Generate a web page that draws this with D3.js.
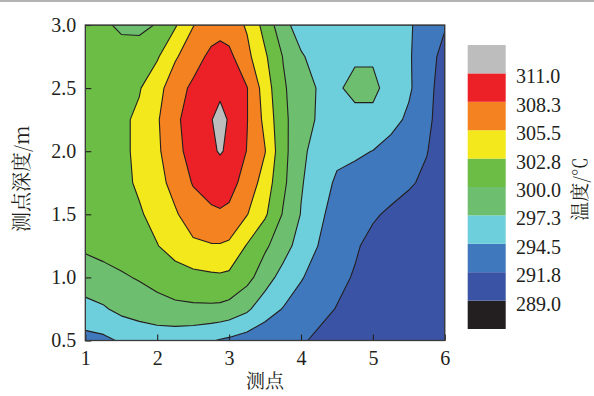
<!DOCTYPE html>
<html>
<head>
<meta charset="utf-8">
<script src="https://cdn.jsdelivr.net/npm/d3@7"></script>
<style>
  body { margin: 0; background: #fff; }
  text { font-family: "Liberation Serif", "Times New Roman", serif; fill: #231f20; }
  .cjk { font-family: "Noto Serif CJK SC", "Noto Sans CJK SC", serif; }
</style>
</head>
<body>
<div id="chart"></div>
<script>
// measuring points (x) and depths (y) of the temperature grid
var xPoints = [1, 1.25, 1.5, 1.75, 2, 2.25, 2.5, 2.75, 2.875, 3, 3.25, 3.5, 3.75, 4, 4.25, 4.5, 4.75, 5, 5.25, 5.5, 5.75, 6];
var depths = [3.0, 2.75, 2.5, 2.25, 2.0, 1.75, 1.5, 1.25, 1.0, 0.75, 0.5];

// temperatures (K), one row per depth
var temps = [
  [300.8, 300.3, 299.7, 299.6, 300.1, 302.5, 305.4, 306.8, 307.2, 306.9, 305.2, 301.8, 298.2, 296.0, 296.2, 296.0, 296.0, 295.9, 295.6, 294.8, 293.4, 292.0],
  [301.3, 301.0, 300.7, 300.8, 302.5, 305.2, 307.0, 309.0, 309.4, 309.0, 306.2, 303.2, 299.9, 297.6, 296.2, 296.4, 297.0, 297.0, 296.0, 294.8, 292.8, 291.0],
  [301.4, 301.8, 302.2, 302.6, 304.6, 307.0, 308.9, 310.2, 310.5, 310.1, 308.4, 304.2, 300.4, 298.3, 297.1, 297.0, 297.9, 297.9, 296.3, 294.9, 292.6, 290.6],
  [301.4, 301.9, 302.3, 303.3, 305.2, 307.8, 309.5, 310.9, 311.7, 310.8, 308.4, 304.8, 300.7, 298.3, 297.0, 296.8, 296.6, 296.6, 295.4, 294.0, 292.4, 290.4],
  [301.3, 301.8, 302.3, 303.3, 305.0, 307.5, 309.3, 310.6, 311.2, 310.6, 308.2, 305.6, 300.8, 298.0, 296.0, 295.3, 294.9, 294.45, 293.5, 292.8, 291.9, 290.3],
  [301.2, 301.6, 302.1, 303.2, 304.6, 306.4, 308.5, 309.4, 309.6, 309.3, 307.2, 304.3, 300.6, 297.5, 296.0, 294.0, 293.6, 293.3, 292.8, 292.1, 291.3, 290.5],
  [301.0, 301.4, 301.9, 302.5, 303.7, 305.2, 306.9, 307.8, 308.0, 307.7, 305.6, 303.2, 299.8, 297.2, 295.0, 293.5, 292.8, 292.1, 291.4, 290.8, 290.4, 290.0],
  [300.4, 300.8, 301.2, 301.7, 302.7, 304.0, 305.0, 305.3, 305.3, 305.0, 302.6, 300.4, 298.6, 296.0, 294.4, 293.0, 292.1, 291.1, 290.7, 290.4, 290.1, 289.8],
  [298.8, 299.2, 299.7, 300.2, 300.8, 301.5, 302.0, 302.3, 302.4, 302.2, 300.8, 298.6, 296.2, 294.7, 293.4, 292.4, 291.6, 290.9, 290.5, 290.2, 289.9, 289.6],
  [296.4, 297.0, 298.0, 298.6, 299.1, 299.4, 299.5, 299.5, 299.4, 299.1, 297.8, 295.6, 294.4, 293.3, 292.5, 291.7, 291.0, 290.6, 290.3, 290.0, 289.7, 289.4],
  [293.6, 293.9, 294.8, 295.3, 295.6, 295.6, 295.3, 294.7, 294.3, 294.0, 293.3, 292.9, 292.5, 292.1, 291.3, 290.6, 290.2, 289.9, 289.7, 289.5, 289.3, 289.1]
];

var levels = [289.0, 291.8, 294.5, 297.3, 300.0, 302.8, 305.5, 308.3, 311.0];
var bandColors = ['#231f20', '#3a53a4', '#3f78bc', '#6dcedc', '#6dbf6f', '#6bbd45', '#f3e81b', '#f58220', '#ec2027', '#bdbdbd'];
var xTicks = [1, 2, 3, 4, 5, 6];
var yTicks = [0.5, 1.0, 1.5, 2.0, 2.5, 3.0];

var width = 594;
var height = 396;
var plot = {left: 85.3, right: 444.8, top: 25, bottom: 340.5};

var svg = d3.select('#chart').append('svg')
  .attr('width', width)
  .attr('height', height);

// thin gray page rule at the top
svg.append('line')
  .attr('x1', 0).attr('x2', width)
  .attr('y1', 1).attr('y2', 1)
  .attr('stroke', '#9a9a9a')
  .attr('stroke-width', 1.5);

/// Scales
var x = d3.scaleLinear().domain([1, 6]).range([plot.left, plot.right]);
var y = d3.scaleLinear().domain([0.5, 3]).range([plot.bottom, plot.top]);

// grid index -> data value (grid columns are not evenly spaced)
var ix = d3.scaleLinear().domain(d3.range(xPoints.length)).range(xPoints).clamp(true);
var iy = d3.scaleLinear().domain(d3.range(depths.length)).range(depths).clamp(true);

var n = xPoints.length, m = depths.length;
var values = [];
temps.forEach(function(row) { row.forEach(function(v) { values.push(v); }); });

var contours = d3.contours()
  .size([n, m])
  .thresholds(levels)(values);

var proj = d3.geoTransform({
  point: function(px, py) {
    this.stream.point(x(ix(px - 0.5)), y(iy(py - 0.5)));
  }
});
var path = d3.geoPath(proj);

svg.append('clipPath').attr('id', 'clip')
  .append('rect')
  .attr('x', plot.left).attr('y', plot.top)
  .attr('width', plot.right - plot.left)
  .attr('height', plot.bottom - plot.top);

var field = svg.append('g').attr('clip-path', 'url(#clip)');

field.append('rect')
  .attr('x', plot.left).attr('y', plot.top)
  .attr('width', plot.right - plot.left)
  .attr('height', plot.bottom - plot.top)
  .attr('fill', bandColors[0]);

field.selectAll('path.band')
  .data(contours)
  .enter().append('path')
  .attr('class', 'band')
  .attr('d', path)
  .attr('fill', function(d, i) { return bandColors[i + 1]; })
  .attr('stroke', '#231f20')
  .attr('stroke-width', 1.1)
  .attr('stroke-linejoin', 'round');

/// Axes
var xAxis = svg.append('g')
  .attr('transform', 'translate(0,' + plot.bottom + ')')
  .call(d3.axisBottom(x).tickValues(xTicks).tickFormat(d3.format('d')).tickSizeInner(-6).tickSizeOuter(0).tickPadding(10));

var yAxis = svg.append('g')
  .attr('transform', 'translate(' + plot.left + ',0)')
  .call(d3.axisLeft(y).tickValues(yTicks).tickFormat(d3.format('.1f')).tickSizeInner(-6).tickSizeOuter(0).tickPadding(9));

[xAxis, yAxis].forEach(function(a) {
  a.select('.domain').remove();
  a.selectAll('.tick line').attr('stroke', '#231f20').attr('stroke-width', 1.1);
  a.selectAll('.tick text')
    .attr('font-size', 20)
    .attr('font-family', '"Liberation Serif", serif')
    .attr('fill', '#231f20');
});

svg.append('rect')
  .attr('x', plot.left).attr('y', plot.top)
  .attr('width', plot.right - plot.left)
  .attr('height', plot.bottom - plot.top)
  .attr('fill', 'none')
  .attr('stroke', '#3a3a3a')
  .attr('stroke-width', 1.3);

// axis titles
svg.append('text')
  .attr('class', 'cjk')
  .attr('x', (plot.left + plot.right) / 2)
  .attr('y', 388)
  .attr('text-anchor', 'middle')
  .attr('font-size', 19)
  .text('测点');

svg.append('text')
  .attr('class', 'cjk')
  .attr('transform', 'translate(29,' + ((plot.top + plot.bottom) / 2 - 4) + ') rotate(-90)')
  .attr('text-anchor', 'middle')
  .attr('font-size', 20)
  .text('测点深度/m');

/// Colour bar
var bar = d3.scaleLinear().domain([0, bandColors.length]).range([329, 45]);
var legend = svg.append('g');

legend.selectAll('rect')
  .data(bandColors)
  .enter().append('rect')
  .attr('x', 467.7)
  .attr('width', 38)
  .attr('y', function(d, i) { return bar(i + 1); })
  .attr('height', function(d, i) { return bar(i) - bar(i + 1); })
  .attr('fill', function(d) { return d; });

legend.selectAll('text')
  .data(levels)
  .enter().append('text')
  .attr('x', 516)
  .attr('y', function(d, i) { return bar(i + 1) + 3; })
  .attr('dy', '0.35em')
  .attr('font-size', 20)
  .text(function(d) { return d3.format('.1f')(d); });

svg.append('text')
  .attr('class', 'cjk')
  .attr('transform', 'translate(587,189) rotate(-90)')
  .attr('text-anchor', 'middle')
  .attr('font-size', 19)
  .text('温度/℃');
</script>
</body>
</html>
